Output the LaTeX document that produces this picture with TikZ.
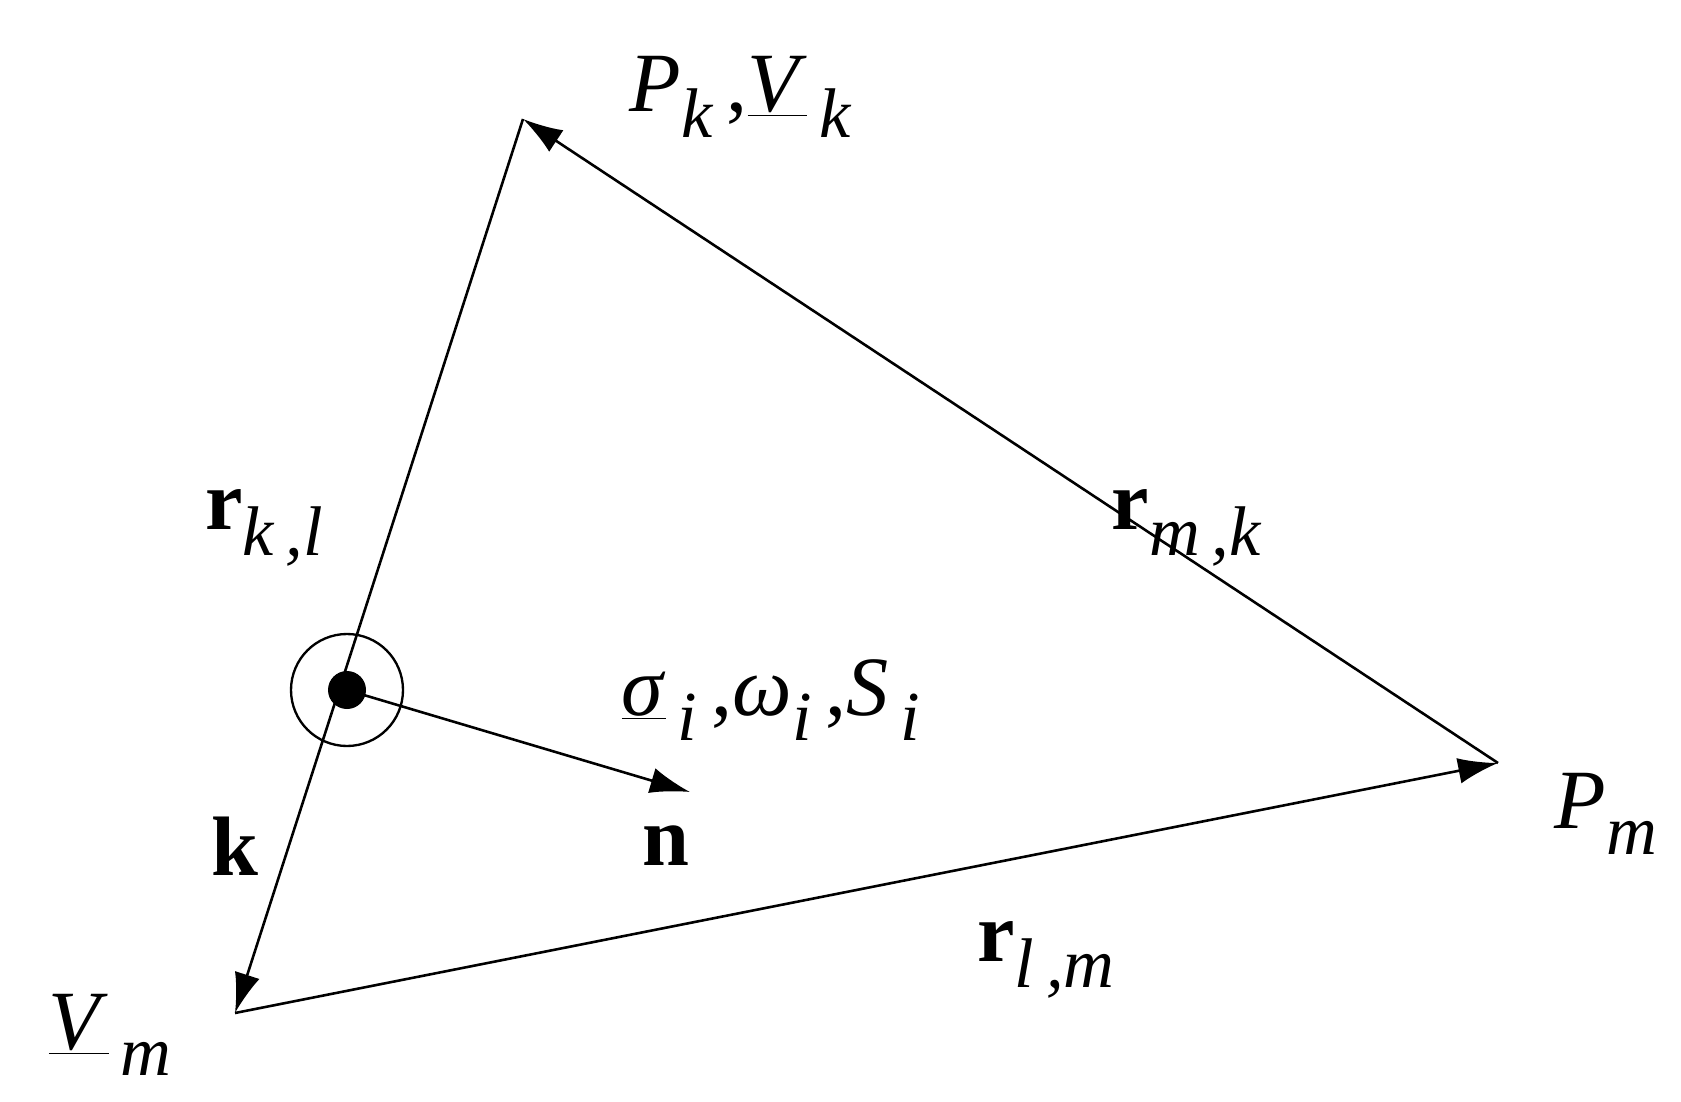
\documentclass[tikz,border=0pt]{standalone}
\usepackage{fontspec}
\setmainfont{Liberation Serif}
\usetikzlibrary{arrows.meta}
\newcommand{\mysb}[1]{\raisebox{-0.3em}{\fontsize{60}{62}\selectfont\itshape #1}}
\begin{document}
\begin{tikzpicture}[x=0.03cm,y=-0.03cm,
  edge/.style={line width=2.2pt,-{Latex[length=34pt,width=22pt]}},
  lab/.style={font=\fontsize{72}{80}\selectfont,inner sep=0pt}]
\useasboundingbox (0,0) rectangle (1681,1102);
\coordinate (pk) at (523,119);
\coordinate (pm) at (1498,763);
\coordinate (vm) at (235,1013);
\coordinate (c) at (347,690);
\coordinate (n) at (690,792);
\draw[edge] (pk) -- (vm);
\draw[edge] (vm) -- (pm);
\draw[edge] (pm) -- (pk);
\draw[line width=2pt] (c) circle[radius=56];
\fill (c) circle[radius=19];
\draw[edge] (c) -- (n);
\node[lab] (lpk) at (740,97) {\textit{P}\mysb{k}\,,\underline{\textit{V}}\mysb{\,k}};
\node[lab] (lrkl) at (264,528) {\textbf{r}\mysb{k\,,l}};
\node[lab] (lrmk) at (1186,528) {\textbf{r}\mysb{m\,,k}};
\node[lab] (lsig) at (771,700) {\underline{\textit{σ}}\mysb{\,i}\,,\textit{ω}\mysb{i}\,,\textit{S}\mysb{\,i}};
\node[lab] (lpm) at (1606,814) {\textit{P}\mysb{m}};
\node[lab] (lk) at (235,846) {\textbf{k}};
\node[lab] (ln) at (666,846) {\textbf{n}};
\node[lab] (lrlm) at (1046,960) {\textbf{r}\mysb{l\,,m}};
\node[lab] (lvm) at (110,1035) {\underline{\textit{V}}\mysb{\,m}};
\end{tikzpicture}
\end{document}
